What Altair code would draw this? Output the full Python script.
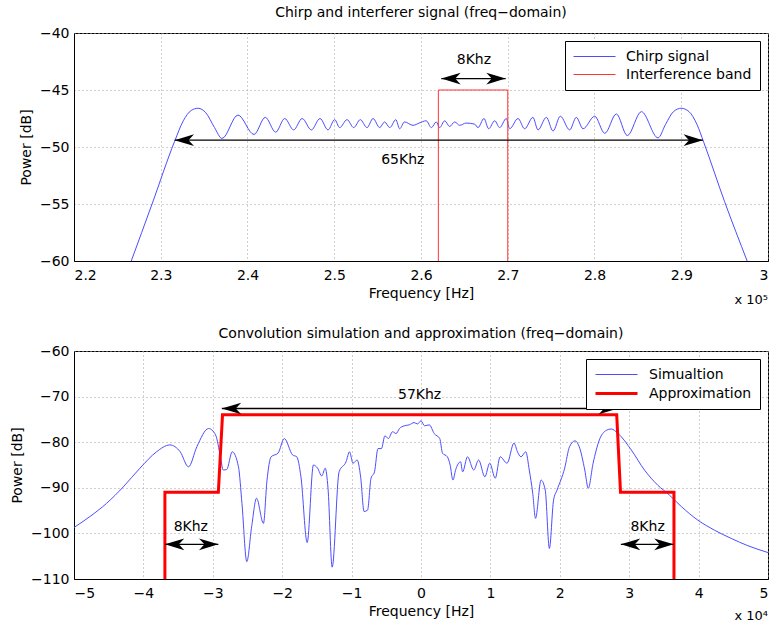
import altair as alt
import pandas as pd

FONT = "DejaVu Sans"

# ---------------- top panel (frequency in units of 1e5 Hz, power in dB)
chirp_freq = [2.266, 2.29, 2.316, 2.326, 2.335, 2.343, 2.352, 2.362, 2.3706, 2.389,
              2.4075, 2.4205, 2.4325, 2.4429, 2.4532, 2.463, 2.4736, 2.4836, 2.4928, 2.5005,
              2.5063, 2.5147, 2.5224, 2.530, 2.5378, 2.5447, 2.5524, 2.558, 2.564, 2.571,
              2.5754, 2.581, 2.5908, 2.598, 2.606, 2.612, 2.6176, 2.6215, 2.6273, 2.633,
              2.6389, 2.6446, 2.652, 2.662, 2.6657, 2.6726, 2.678, 2.685, 2.6907, 2.6983,
              2.7022, 2.7118, 2.7195, 2.729, 2.7349, 2.7445, 2.7522, 2.7606, 2.7714, 2.779,
              2.7868, 2.8002, 2.8118, 2.8252, 2.8378, 2.854, 2.8732, 2.882, 2.891, 2.900,
              2.909, 2.918, 2.926, 2.95, 2.976]
chirp_power = [-60, -55, -49.5, -47.7, -46.8, -46.6, -47.0, -48.3, -49.25, -47.2,
               -48.9, -47.4, -48.7, -47.5, -48.5, -47.5, -48.5, -47.5, -48.5, -47.6,
               -48.3, -47.6, -48.3, -47.6, -48.3, -47.5, -48.3, -47.8, -48.3, -47.6,
               -48.4, -47.8, -48.1, -47.9, -47.7, -48.3, -47.8, -48.3, -47.7, -48.2,
               -47.8, -48.1, -47.9, -48.0, -48.3, -47.5, -48.4, -47.7, -48.3, -47.5,
               -48.4, -47.5, -48.4, -47.4, -48.5, -47.4, -48.6, -47.3, -48.5, -47.4,
               -48.4, -47.3, -48.8, -47.1, -49.0, -46.9, -49.2, -48.0, -46.9, -46.6,
               -46.9, -48.0, -49.6, -54.8, -60]
band_freq = [2.62, 2.62, 2.70, 2.70]
band_power = [-60, -45, -45, -60]
top_series = ["Chirp signal", "Interference band"]

top_arrow_x1 = [2.316, 2.6234]
top_arrow_x2 = [2.925, 2.6976]
top_arrow_y = [-49.4, -44.0]
top_text = ["65Khz", "8Khz"]
top_text_x = [2.579, 2.661]
top_text_y = [-51.1, -42.4]
top_xticks = [2.2, 2.3, 2.4, 2.5, 2.6, 2.7, 2.8, 2.9, 3.0]
top_yticks = [-60, -55, -50, -45, -40]

# ---------------- bottom panel (frequency in units of 1e4 Hz, power in dB)
sim_freq = [-5.0, -4.77, -4.53, -4.29, -4.05, -3.81, -3.62, -3.47, -3.35, -3.23,
            -3.06, -2.96, -2.89, -2.85, -2.80, -2.72, -2.63, -2.58, -2.51, -2.44,
            -2.37, -2.27, -2.22, -2.16, -2.06, -1.97, -1.85, -1.79, -1.73, -1.64,
            -1.55, -1.49, -1.43, -1.38, -1.34, -1.28, -1.18, -1.08, -1.03, -0.98,
            -0.92, -0.87, -0.82, -0.77, -0.72, -0.67, -0.62, -0.57, -0.52, -0.47,
            -0.41, -0.36, -0.31, -0.24, -0.17, -0.10, -0.05, 0.0, 0.05, 0.12,
            0.19, 0.27, 0.31, 0.38, 0.42, 0.46, 0.50, 0.57, 0.60, 0.67,
            0.76, 0.83, 0.92, 0.99, 1.07, 1.14, 1.24, 1.34, 1.39, 1.44,
            1.51, 1.56, 1.61, 1.65, 1.73, 1.79, 1.85, 1.91, 1.96, 2.07,
            2.14, 2.22, 2.28, 2.36, 2.41, 2.48, 2.57, 2.67, 2.74, 2.84,
            3.03, 3.22, 3.41, 3.58, 3.75, 3.99, 4.23, 4.47, 4.71, 5.0]
sim_power = [-98.7, -96.3, -93.4, -89.8, -85.7, -82.1, -80.6, -82.1, -85.4, -81.0,
             -77.0, -78.4, -83.2, -86.1, -86.0, -82.1, -85.4, -93.4, -106.2, -98.5,
             -92.3, -97.8, -88.5, -83.2, -82.4, -79.2, -82.8, -83.2, -87.6, -102.0,
             -85.0, -85.7, -87.4, -85.7, -90.1, -107.4, -86.5, -84.3, -82.1, -84.6,
             -83.9, -87.6, -95.2, -94.9, -87.9, -86.5, -81.4, -81.4, -78.6, -79.2,
             -77.7, -78.1, -77.0, -76.4, -76.2, -75.7, -76.0, -75.3, -76.4, -76.2,
             -78.1, -79.2, -82.4, -83.2, -85.0, -88.3, -86.0, -84.3, -86.5, -83.2,
             -86.1, -83.9, -87.6, -84.6, -87.9, -83.2, -84.6, -80.2, -82.1, -83.2,
             -82.1, -86.1, -91.2, -96.7, -88.3, -90.5, -103.3, -92.7, -90.5, -85.7,
             -81.0, -79.7, -81.0, -86.1, -90.1, -84.6, -79.5, -77.4, -77.1, -78.1,
             -81.7, -86.1, -89.4, -91.6, -94.1, -97.1, -99.3, -101.1, -102.7, -104.2]
approx_freq = [-3.69, -3.69, -2.92, -2.86, 2.82, 2.875, 3.645, 3.645]
approx_power = [-110, -91, -91, -74, -74, -91, -91, -110]
bottom_series = ["Simualtion", "Approximation"]

bot_arrow_x1 = [-2.87, -3.69, 2.88]
bot_arrow_x2 = [2.84, -2.92, 3.64]
bot_arrow_y = [-72.6, -102.4, -102.4]
bot_text = ["57Khz", "8Khz", "8Khz"]
bot_text_x = [-0.02, -3.317, 3.265]
bot_text_y = [-69.6, -98.7, -98.5]
bot_xticks = [-5, -4, -3, -2, -1, 0, 1, 2, 3, 4, 5]
bot_yticks = [-110, -100, -90, -80, -70, -60]

HEAD_R = "M0,0L-1,-0.3L-0.72,0L-1,0.3Z"
HEAD_L = "M0,0L1,-0.3L0.72,0L1,0.3Z"


def panel(sig_f, sig_p, red_f, red_p, names, colors, widths, ax1, ax2, ay, tx, txx, txy,
          xdom, xticks, xfmt, ydom, yticks, title, exp_text, exp_y, title_offset):
    xs = alt.Scale(domain=xdom, nice=False, zero=False)
    ys = alt.Scale(domain=ydom, nice=False, zero=False)
    xa = alt.Axis(values=xticks, format=xfmt, title="Frequency [Hz]")
    ya = alt.Axis(values=yticks, title="Power [dB]")
    X = lambda fld: alt.X(fld, scale=xs, axis=xa)
    Y = lambda fld: alt.Y(fld, scale=ys, axis=ya)

    leg = alt.Legend(title=None, orient="top-right", offset=8, fillColor="white",
                     strokeColor="black", padding=8, cornerRadius=0,
                     symbolType="M-1,0H5", symbolSize=196, labelFont=FONT,
                     labelFontSize=14, labelColor="black", labelOffset=38, rowPadding=3)
    cscale = alt.Scale(domain=names, range=colors)
    wscale = alt.Scale(domain=names, range=widths)

    sig_df = pd.DataFrame({"f": sig_f, "p": sig_p, "series": names[0], "i": range(len(sig_f))})
    red_df = pd.DataFrame({"f": red_f, "p": red_p, "series": names[1], "i": range(len(red_f))})

    sig = alt.Chart(sig_df).mark_line(interpolate="monotone").encode(
        x=X("f:Q"), y=Y("p:Q"),
        color=alt.Color("series:N", scale=cscale, legend=leg),
        strokeWidth=alt.StrokeWidth("series:N", scale=wscale, legend=leg),
        order="i:Q",
    )
    red = alt.Chart(red_df).mark_line(interpolate="linear").encode(
        x=X("f:Q"), y=Y("p:Q"),
        color=alt.Color("series:N", scale=cscale, legend=leg),
        strokeWidth=alt.StrokeWidth("series:N", scale=wscale, legend=leg),
        order="i:Q",
    )
    arr = pd.DataFrame({"f": ax1, "f2": ax2, "p": ay})
    rules = alt.Chart(arr).mark_rule(color="black", strokeWidth=1.4).encode(
        x=X("f:Q"), x2="f2:Q", y=Y("p:Q"))
    heads = pd.DataFrame({
        "f": list(ax1) + list(ax2),
        "p": list(ay) + list(ay),
        "dir": ["L"] * len(ax1) + ["R"] * len(ax2),
    })
    head_pts = alt.Chart(heads).mark_point(filled=True, opacity=1, color="black", size=1500,
                                           strokeWidth=0).encode(
        x=X("f:Q"), y=Y("p:Q"),
        shape=alt.Shape("dir:N", scale=alt.Scale(domain=["L", "R"], range=[HEAD_L, HEAD_R]),
                        legend=None))
    tdf = pd.DataFrame({"f": txx, "p": txy, "t": tx})
    texts = alt.Chart(tdf).mark_text(font=FONT, fontSize=14, color="black",
                                     baseline="middle", align="center").encode(
        x=X("f:Q"), y=Y("p:Q"), text="t:N")
    edf = pd.DataFrame({"f": [xdom[1]], "p": [exp_y], "t": [exp_text]})
    exp = alt.Chart(edf).mark_text(font=FONT, fontSize=13, color="black",
                                   baseline="middle", align="right").encode(
        x=X("f:Q"), y=Y("p:Q"), text="t:N")
    return alt.layer(sig, red, rules, head_pts, texts, exp).properties(
        width=694, height=228,
        title=alt.Title(title, font=FONT, fontSize=14, fontWeight="normal", color="black",
                        offset=title_offset))


top = panel(chirp_freq, chirp_power, band_freq, band_power, top_series,
            ["#4d4dff", "#ff3333"], [1, 1],
            top_arrow_x1, top_arrow_x2, top_arrow_y, top_text, top_text_x, top_text_y,
            [2.2, 3.0], top_xticks, "~g", [-60, -40], top_yticks,
            "Chirp and interferer signal (freq\u2212domain)", "x 10\u2075", -63.4, 6)
bottom = panel(sim_freq, sim_power, approx_freq, approx_power, bottom_series,
               ["#4d4dff", "#ff0000"], [1, 3],
               bot_arrow_x1, bot_arrow_x2, bot_arrow_y, bot_text, bot_text_x, bot_text_y,
               [-5, 5], bot_xticks, "d", [-110, -60], bot_yticks,
               "Convolution simulation and approximation (freq\u2212domain)", "x 10\u2074", -118.2, 3)

chart = alt.vconcat(top, bottom, spacing=18).resolve_scale(
    color="independent", strokeWidth="independent", shape="independent", x="independent", y="independent"
).resolve_legend(color="independent", strokeWidth="independent").properties(
    padding={"left": 10, "top": 5, "right": 0, "bottom": 0}
).configure(font=FONT).configure_view(
    stroke="black", strokeWidth=1
).configure_axis(
    labelFont=FONT, labelFontSize=14, labelColor="black", titleFont=FONT, titleFontSize=14,
    titleFontWeight="normal", titleColor="black", domainColor="black", ticks=False,
    gridColor="#a0a0a0", gridDash=[1, 3], gridOpacity=1, labelPadding=5, titlePadding=6
).configure_axisX(labelPadding=7, titlePadding=4)

chart.save("out.html", embed_options={"renderer": "svg", "actions": False})
